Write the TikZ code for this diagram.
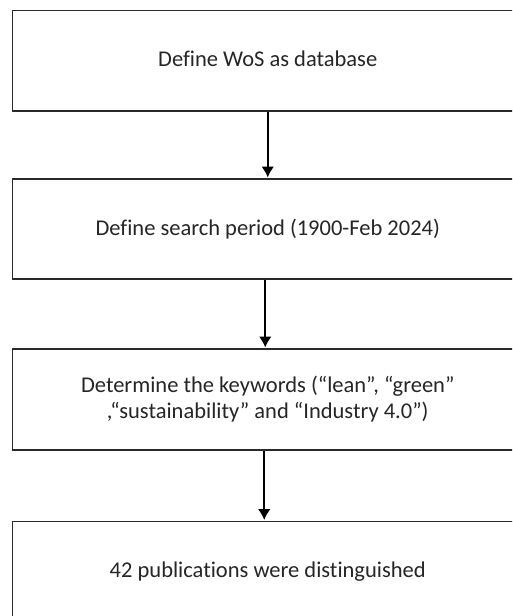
\documentclass[tikz,border=0pt]{standalone}
\usepackage{fontspec}
\setmainfont[Ligatures=NoCommon]{Carlito}
\usetikzlibrary{arrows.meta}
\definecolor{inkgray}{HTML}{262626}
\definecolor{framegray}{HTML}{2A2A2A}
\tikzset{
  stepbox/.style={draw=framegray, line width=1.6pt, fill=white,
    minimum width=510.5pt, inner sep=0pt, anchor=north,
    text=inkgray, font=\fontsize{22.5}{26.5}\selectfont, align=center},
  flow/.style={draw=black, line width=2.2pt,
    -{Latex[length=11pt,width=13pt]}, shorten >=0.5pt}
}
\begin{document}
\begin{tikzpicture}[x=1pt,y=-1pt]
  \useasboundingbox (0,0) rectangle (512,616);
  \clip (0,0) rectangle (512,616);
  \fill[white] (0,0) rectangle (512,616);

  \node[stepbox, minimum height=100.5pt] (s1) at (267.75,9.5)
    {\raisebox{3pt}{Define WoS as database}};
  \node[stepbox, minimum height=100pt] (s2) at (267.75,178)
    {Define search period (1900-Feb 2024)};
  \node[stepbox, minimum height=101pt] (s3) at (267.75,348)
    {Determine the keywords (“lean”, “green”\\,“sustainability” and “Industry 4.0”)};
  \node[stepbox, minimum height=100pt] (s4) at (267.75,520.5)
    {42 publications were distinguished};

  \draw[flow] (s1.south) -- (s2.north);
  \draw[flow] ([xshift=-2.5pt]s2.south) -- ([xshift=-2.5pt]s3.north);
  \draw[flow] ([xshift=-3.5pt]s3.south) -- ([xshift=-3.5pt]s4.north);
\end{tikzpicture}
\end{document}
